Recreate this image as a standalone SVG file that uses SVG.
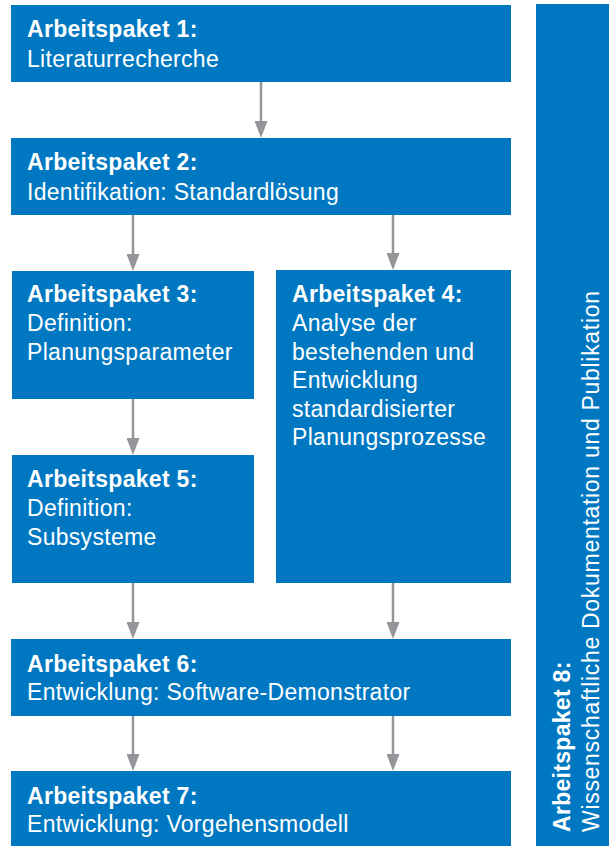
<svg xmlns="http://www.w3.org/2000/svg" width="609" height="846" viewBox="0 0 609 846">
  <style>
    .box { fill: #0078c1; }
    .t { font-family: "Liberation Sans", Arial, Helvetica, sans-serif; font-size: 23px; fill: #ffffff; letter-spacing: 0.3px; }
    .b { font-weight: bold; }
    .v { letter-spacing: 0.7px; }
    .conn { stroke: #939598; stroke-width: 2.5; fill: none; marker-end: url(#head); }
  </style>
  <defs>
    <marker id="head" viewBox="0 0 17 13" markerWidth="17" markerHeight="13" refX="9" refY="6.5" orient="auto" markerUnits="userSpaceOnUse">
      <path d="M0,0 L17,6.5 L0,13 Z" fill="#939598"/>
    </marker>
  </defs>

  <rect width="609" height="846" fill="#ffffff"/>

  <!-- connectors -->
  <g id="connectors">
    <line class="conn" x1="261" y1="82" x2="261" y2="130"/>
    <line class="conn" x1="133" y1="215" x2="133" y2="263"/>
    <line class="conn" x1="393" y1="215" x2="393" y2="262"/>
    <line class="conn" x1="133" y1="399" x2="133" y2="447"/>
    <line class="conn" x1="133" y1="583" x2="133" y2="631"/>
    <line class="conn" x1="393" y1="583" x2="393" y2="631"/>
    <line class="conn" x1="133" y1="716" x2="133" y2="763"/>
    <line class="conn" x1="393" y1="716" x2="393" y2="763"/>
  </g>

  <g id="ap1">
    <rect class="box" x="11" y="5" width="500" height="77"/>
    <text class="t b" x="27" y="37">Arbeitspaket 1:</text>
    <text class="t" x="27" y="66.5">Literaturrecherche</text>
  </g>

  <g id="ap2">
    <rect class="box" x="11" y="138" width="500" height="77"/>
    <text class="t b" x="27" y="170">Arbeitspaket 2:</text>
    <text class="t" x="27" y="199.5">Identifikation: Standardlösung</text>
  </g>

  <g id="ap3">
    <rect class="box" x="12" y="271" width="242" height="128"/>
    <text class="t b" x="27" y="302">Arbeitspaket 3:</text>
    <text class="t" x="27" y="331">Definition:</text>
    <text class="t" x="27" y="360">Planungsparameter</text>
  </g>

  <g id="ap4">
    <rect class="box" x="276" y="270" width="235" height="313"/>
    <text class="t b" x="292" y="302">Arbeitspaket 4:</text>
    <text class="t" x="292" y="330.5">Analyse der</text>
    <text class="t" x="292" y="359.5">bestehenden und</text>
    <text class="t" x="292" y="388">Entwicklung</text>
    <text class="t" x="292" y="416.5">standardisierter</text>
    <text class="t" x="292" y="445">Planungsprozesse</text>
  </g>

  <g id="ap5">
    <rect class="box" x="12" y="455" width="242" height="128"/>
    <text class="t b" x="27" y="487">Arbeitspaket 5:</text>
    <text class="t" x="27" y="516">Definition:</text>
    <text class="t" x="27" y="544.5">Subsysteme</text>
  </g>

  <g id="ap6">
    <rect class="box" x="11" y="639" width="500" height="77"/>
    <text class="t b" x="27" y="671.5">Arbeitspaket 6:</text>
    <text class="t" x="27" y="700">Entwicklung: Software-Demonstrator</text>
  </g>

  <g id="ap7">
    <rect class="box" x="11" y="771" width="500" height="75"/>
    <text class="t b" x="27" y="803.5">Arbeitspaket 7:</text>
    <text class="t" x="27" y="832">Entwicklung: Vorgehensmodell</text>
  </g>

  <g id="ap8">
    <rect class="box" x="536" y="4" width="73" height="842"/>
    <g transform="translate(570 832) rotate(-90)">
      <text class="t b" x="0" y="0">Arbeitspaket 8:</text>
      <text class="t v" x="0" y="28.5">Wissenschaftliche Dokumentation und Publikation</text>
    </g>
  </g>
</svg>
